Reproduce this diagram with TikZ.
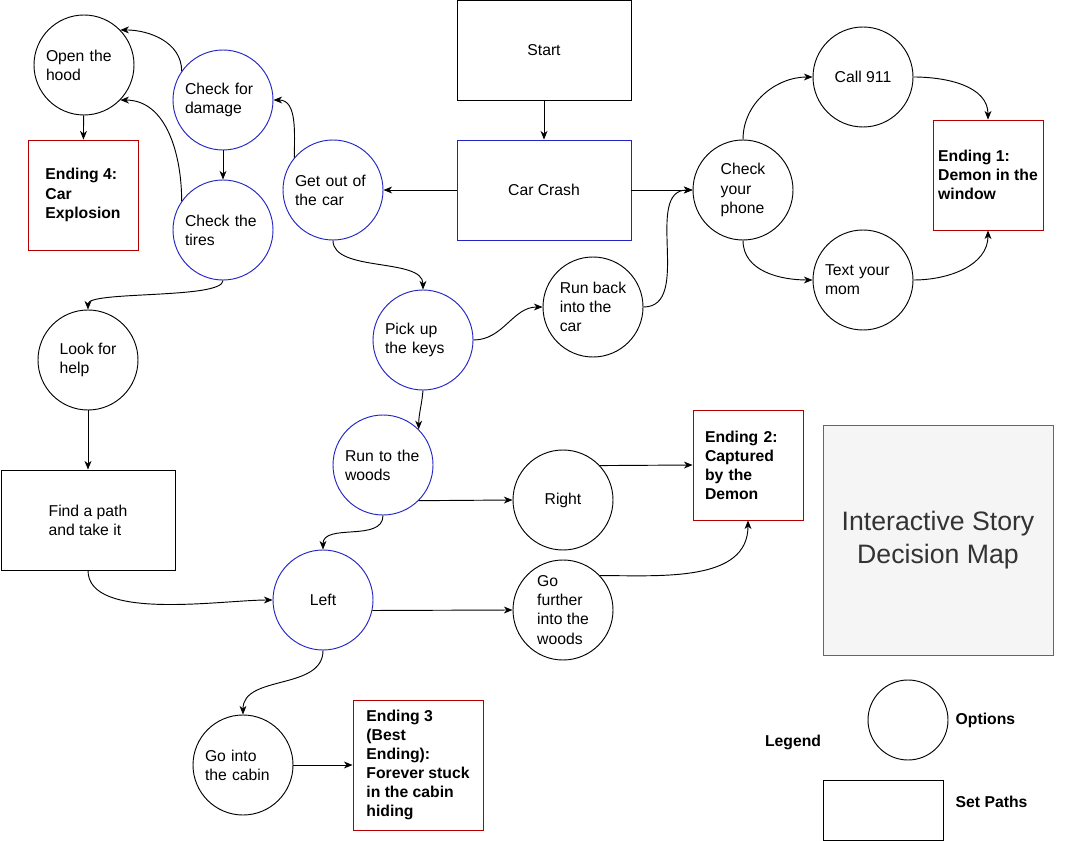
\documentclass[tikz,border=0pt]{standalone}
\usepackage{fontspec}
\setmainfont{Liberation Sans}
\usetikzlibrary{arrows.meta}
\definecolor{pathblue}{HTML}{2323C4}
\definecolor{endred}{HTML}{B20000}
\definecolor{titlefill}{HTML}{F5F5F5}
\definecolor{titleline}{HTML}{666666}
\definecolor{titletext}{HTML}{333333}
\begin{document}
\begin{tikzpicture}[x=0.75pt,y=-0.75pt,
    font=\fontsize{11.8pt}{14.3pt}\selectfont,
    opt/.style={draw, circle, minimum size=75pt, inner sep=0pt, align=left, line width=0.7pt},
    optblue/.style={opt, draw=pathblue},
    wrapped/.style={text width=57pt},
    pathbox/.style={draw, rectangle, minimum width=130.5pt, minimum height=75pt, align=left, line width=0.6pt},
    endbox/.style={draw=endred, rectangle, minimum width=82.5pt, minimum height=82.5pt, align=left, font=\fontsize{11.8pt}{14.3pt}\selectfont\bfseries, line width=0.6pt},
    boldtext/.style={font=\fontsize{11.8pt}{14.3pt}\selectfont\bfseries},
    arr/.style={-{Stealth[length=6.5pt,width=5.2pt,inset=2pt]}, line width=0.7pt}]
\useasboundingbox (0,0) rectangle (1074,841);

% start of the story
\node[pathbox] (start) at (544,50) {Start};
\node[pathbox, draw=pathblue] (crash) at (544,190) {Car Crash};

% leaving the car
\node[optblue, wrapped] (getout) at (333,190) {Get out of\\the car};
\node[optblue, wrapped] (damage) at (223,100) {Check for\\damage};
\node[optblue, wrapped] (tires) at (223,230) {Check the\\tires};
\node[opt, wrapped] (hood) at (84,65) {Open the\\hood};
\node[endbox] (end4) at (83,195) {Ending 4:\\Car\\Explosion};
\node[opt] (help) at (88,360) {Look for\\help};
\node[pathbox] (findpath) at (88,520) {Find a path\\and take it};

% keys and phone
\node[optblue, wrapped] (keys) at (423,340) {Pick up\\the keys};
\node[opt] (runback) at (593,307) {Run back\\into the\\car};
\node[opt] (phone) at (743,190) {Check\\your\\phone};
\node[opt] (call) at (863,77) {Call 911};
\node[opt, wrapped] (textmom) at (863,280) {Text your\\mom};
\node[endbox] (end1) at (988,175) {Ending 1:\\Demon in the\\window};

% the woods
\node[optblue, wrapped] (woods) at (383,465) {Run to the\\woods};
\node[opt] (right) at (563,500) {Right};
\node[endbox, text width=64.5pt] (end2) at (748,465) {Ending 2:\\Captured\\by the\\Demon};
\node[optblue] (left) at (323,600) {Left};
\node[opt] (further) at (563,610) {Go\\further\\into the\\woods};
\node[opt, wrapped] (cabin) at (243,765) {Go into\\the cabin};
\node[endbox, minimum size=97.5pt] (end3) at (418,765) {Ending 3\\(Best\\Ending):\\Forever stuck\\in the cabin\\hiding};

% title and legend
\node[draw=titleline, fill=titlefill, minimum size=172.5pt, text=titletext, align=center,
      font=\fontsize{20pt}{24.75pt}\selectfont] (title) at (938,540) {Interactive Story\\Decision Map};
\node[boldtext] (legend) at (793,742) {Legend};
\node[opt, minimum size=60pt] (legopt) at (908,720) {};
\node[boldtext, anchor=west] (legopttext) at (951,720) {Options};
\node[pathbox, minimum width=90pt, minimum height=45pt] (legpath) at (883,810) {};
\node[boldtext, anchor=west] (legpathtext) at (951,802) {Set Paths};

% connectors
\draw[arr] (start) -- (crash);
\draw[arr] (crash) -- (getout);
\draw[arr] (crash) -- (phone);
\draw[arr] (getout.140) to[out=90,in=0] (damage.east);
\draw[arr] (damage) -- (tires);
\draw[arr] (damage.145) to[out=90,in=0] (hood.44);
\draw[arr] (tires.145) to[out=90,in=0] (hood.-44);
\draw[arr] (hood) -- (end4);
\draw[arr] (tires.south) to[out=-90,in=90,looseness=0.35] (help.north);
\draw[arr] (help) -- (findpath);
\draw[arr] (findpath.south) to[out=-90,in=180,looseness=0.7] (left.west);
\draw[arr] (getout.south) to[out=-90,in=90,looseness=0.8] (keys.north);
\draw[arr] (keys.east) to[out=0,in=180] (runback.west);
\draw[arr] (runback.east) to[out=0,in=180] (phone.west);
\draw[arr] (phone.north) to[out=90,in=180] (call.west);
\draw[arr] (phone.south) to[out=-90,in=180] (textmom.west);
\draw[arr] (call.east) to[out=0,in=90] (end1.north);
\draw[arr] (textmom.east) to[out=0,in=-90] (end1.south);
\draw[arr] (keys.south) to[out=-95,in=90] (woods.45);
\draw[arr] (woods.-45) -- (right.west);
\draw[arr] (woods.south) to[out=-90,in=90] (left.north);
\draw[arr] (right.43) -- (end2.west);
\draw[arr] (left.-12) -- (further.west);
\draw[arr] (further.43) to[out=0,in=-90] (end2.south);
\draw[arr] (left.south) to[out=-90,in=90] (cabin.north);
\draw[arr] (cabin) -- (end3);
\end{tikzpicture}
\end{document}
